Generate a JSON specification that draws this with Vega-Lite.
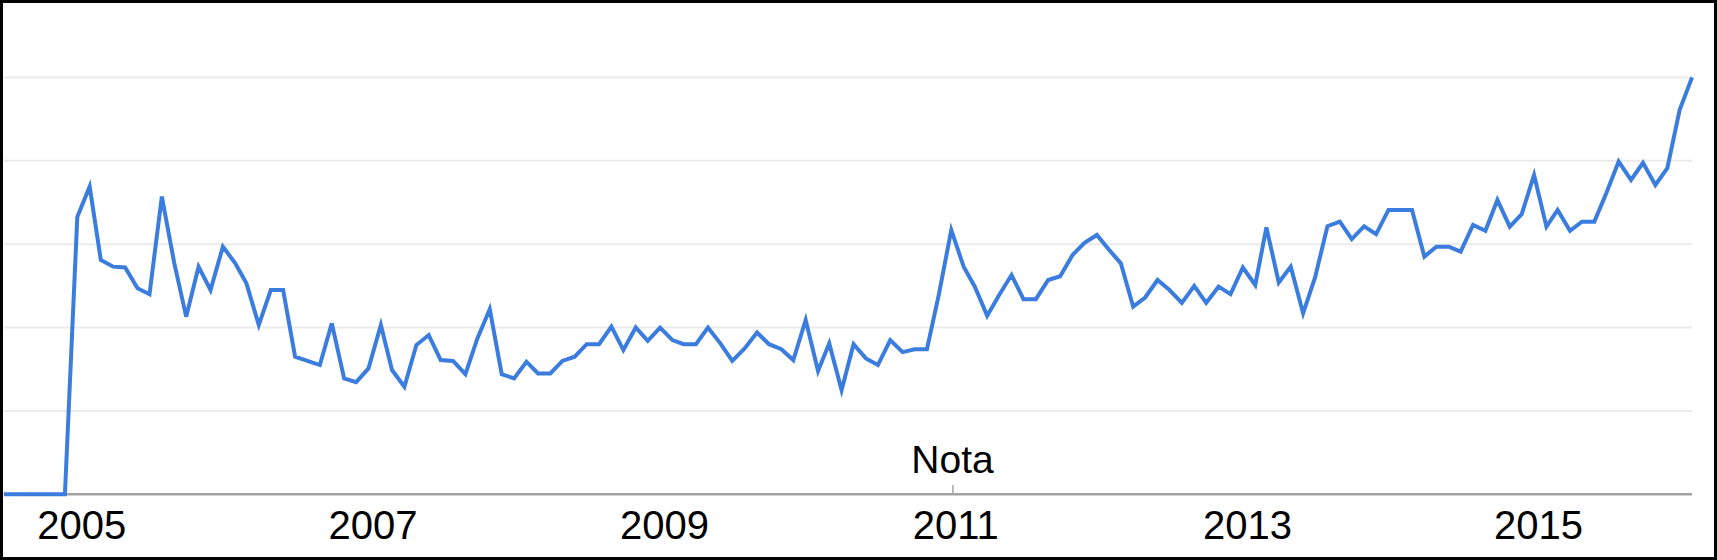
{
  "$schema": "https://vega.github.io/schema/vega-lite/v6.json",
  "width": 1714,
  "height": 557,
  "autosize": {"type": "none"},
  "padding": 1.5,
  "background": "white",
  "config": {"view": {"stroke": "#000000", "strokeWidth": 3}, "font": "Liberation Sans"},
  "data": {"values": [{"note": "Nota"}]},
  "datasets": {
    "trend": [
      {"month": "2004-07-01", "value": 0}, {"month": "2004-08-01", "value": 0}, {"month": "2004-09-01", "value": 0},
      {"month": "2004-10-01", "value": 0}, {"month": "2004-11-01", "value": 0}, {"month": "2004-12-01", "value": 0},
      {"month": "2005-01-01", "value": 66.5}, {"month": "2005-02-01", "value": 73.8}, {"month": "2005-03-01", "value": 56.2},
      {"month": "2005-04-01", "value": 54.6}, {"month": "2005-05-01", "value": 54.4}, {"month": "2005-06-01", "value": 49.4},
      {"month": "2005-07-01", "value": 48.0}, {"month": "2005-08-01", "value": 71.4}, {"month": "2005-09-01", "value": 55.5},
      {"month": "2005-10-01", "value": 42.6}, {"month": "2005-11-01", "value": 54.6}, {"month": "2005-12-01", "value": 49.0},
      {"month": "2006-01-01", "value": 59.4}, {"month": "2006-02-01", "value": 55.4}, {"month": "2006-03-01", "value": 50.6},
      {"month": "2006-04-01", "value": 40.6}, {"month": "2006-05-01", "value": 49.0}, {"month": "2006-06-01", "value": 49.0},
      {"month": "2006-07-01", "value": 33.0}, {"month": "2006-08-01", "value": 32.0}, {"month": "2006-09-01", "value": 31.0},
      {"month": "2006-10-01", "value": 41.0}, {"month": "2006-11-01", "value": 27.8}, {"month": "2006-12-01", "value": 26.9},
      {"month": "2007-01-01", "value": 30.2}, {"month": "2007-02-01", "value": 40.6}, {"month": "2007-03-01", "value": 29.8},
      {"month": "2007-04-01", "value": 25.8}, {"month": "2007-05-01", "value": 35.8}, {"month": "2007-06-01", "value": 38.2},
      {"month": "2007-07-01", "value": 32.2}, {"month": "2007-08-01", "value": 32.0}, {"month": "2007-09-01", "value": 28.8},
      {"month": "2007-10-01", "value": 37.4}, {"month": "2007-11-01", "value": 44.4}, {"month": "2007-12-01", "value": 28.8},
      {"month": "2008-01-01", "value": 27.8}, {"month": "2008-02-01", "value": 31.8}, {"month": "2008-03-01", "value": 29.0},
      {"month": "2008-04-01", "value": 29.0}, {"month": "2008-05-01", "value": 32.0}, {"month": "2008-06-01", "value": 33.0},
      {"month": "2008-07-01", "value": 36.0}, {"month": "2008-08-01", "value": 36.0}, {"month": "2008-09-01", "value": 40.2},
      {"month": "2008-10-01", "value": 34.6}, {"month": "2008-11-01", "value": 40.0}, {"month": "2008-12-01", "value": 36.8},
      {"month": "2009-01-01", "value": 40.0}, {"month": "2009-02-01", "value": 37.0}, {"month": "2009-03-01", "value": 36.0},
      {"month": "2009-04-01", "value": 36.0}, {"month": "2009-05-01", "value": 40.0}, {"month": "2009-06-01", "value": 36.2},
      {"month": "2009-07-01", "value": 32.0}, {"month": "2009-08-01", "value": 35.0}, {"month": "2009-09-01", "value": 38.8},
      {"month": "2009-10-01", "value": 36.0}, {"month": "2009-11-01", "value": 34.8}, {"month": "2009-12-01", "value": 32.2},
      {"month": "2010-01-01", "value": 41.8}, {"month": "2010-02-01", "value": 29.6}, {"month": "2010-03-01", "value": 36.2},
      {"month": "2010-04-01", "value": 25.0}, {"month": "2010-05-01", "value": 36.0}, {"month": "2010-06-01", "value": 32.6},
      {"month": "2010-07-01", "value": 31.0}, {"month": "2010-08-01", "value": 37.0}, {"month": "2010-09-01", "value": 34.1},
      {"month": "2010-10-01", "value": 34.8}, {"month": "2010-11-01", "value": 34.8}, {"month": "2010-12-01", "value": 48.0},
      {"month": "2011-01-01", "value": 63.4}, {"month": "2011-02-01", "value": 54.6}, {"month": "2011-03-01", "value": 49.8},
      {"month": "2011-04-01", "value": 42.8}, {"month": "2011-05-01", "value": 47.8}, {"month": "2011-06-01", "value": 52.6},
      {"month": "2011-07-01", "value": 46.8}, {"month": "2011-08-01", "value": 46.8}, {"month": "2011-09-01", "value": 51.4},
      {"month": "2011-10-01", "value": 52.3}, {"month": "2011-11-01", "value": 57.4}, {"month": "2011-12-01", "value": 60.3},
      {"month": "2012-01-01", "value": 62.2}, {"month": "2012-02-01", "value": 58.6}, {"month": "2012-03-01", "value": 55.4},
      {"month": "2012-04-01", "value": 45.0}, {"month": "2012-05-01", "value": 47.2}, {"month": "2012-06-01", "value": 51.4},
      {"month": "2012-07-01", "value": 49.0}, {"month": "2012-08-01", "value": 45.9}, {"month": "2012-09-01", "value": 50.0},
      {"month": "2012-10-01", "value": 45.9}, {"month": "2012-11-01", "value": 49.8}, {"month": "2012-12-01", "value": 48.0},
      {"month": "2013-01-01", "value": 54.4}, {"month": "2013-02-01", "value": 50.2}, {"month": "2013-03-01", "value": 64.0},
      {"month": "2013-04-01", "value": 50.8}, {"month": "2013-05-01", "value": 54.6}, {"month": "2013-06-01", "value": 43.4},
      {"month": "2013-07-01", "value": 52.0}, {"month": "2013-08-01", "value": 64.3}, {"month": "2013-09-01", "value": 65.4},
      {"month": "2013-10-01", "value": 61.2}, {"month": "2013-11-01", "value": 64.3}, {"month": "2013-12-01", "value": 62.4},
      {"month": "2014-01-01", "value": 68.2}, {"month": "2014-02-01", "value": 68.2}, {"month": "2014-03-01", "value": 68.2},
      {"month": "2014-04-01", "value": 57.0}, {"month": "2014-05-01", "value": 59.4}, {"month": "2014-06-01", "value": 59.4},
      {"month": "2014-07-01", "value": 58.2}, {"month": "2014-08-01", "value": 64.6}, {"month": "2014-09-01", "value": 63.2},
      {"month": "2014-10-01", "value": 70.6}, {"month": "2014-11-01", "value": 64.2}, {"month": "2014-12-01", "value": 67.2},
      {"month": "2015-01-01", "value": 76.6}, {"month": "2015-02-01", "value": 64.2}, {"month": "2015-03-01", "value": 68.2},
      {"month": "2015-04-01", "value": 63.2}, {"month": "2015-05-01", "value": 65.4}, {"month": "2015-06-01", "value": 65.4},
      {"month": "2015-07-01", "value": 72.2}, {"month": "2015-08-01", "value": 79.8}, {"month": "2015-09-01", "value": 75.4},
      {"month": "2015-10-01", "value": 79.5}, {"month": "2015-11-01", "value": 74.2}, {"month": "2015-12-01", "value": 78.2},
      {"month": "2016-01-01", "value": 92.2}, {"month": "2016-02-01", "value": 100}
    ],
    "grid": [{"v": 20}, {"v": 40}, {"v": 60}, {"v": 80}, {"v": 100}]
  },
  "layer": [
    {
      "data": {"name": "grid"},
      "mark": {"type": "rule", "color": "#ebebeb", "strokeWidth": 2},
      "encoding": {
        "x": {"datum": {"year": 2004, "month": 7, "date": 1, "utc": true}, "type": "temporal",
              "scale": {"type": "utc", "domain": [{"year": 2004, "month": 6, "date": 25, "utc": true}, {"year": 2016, "month": 3, "date": 30, "hours": 19, "utc": true}]},
              "axis": {"values": [1104537600000, 1167609600000, 1230768000000, 1293840000000, 1356998400000, 1420070400000],
                "format": "%Y", "title": null, "domain": false, "ticks": false, "tickSize": 0, "grid": false,
                "labelFontSize": 40, "labelFont": "Liberation Sans", "labelColor": "#000000",
                "labelBaseline": "alphabetic", "labelPadding": 44, "offset": -64.2, "labelOffset": 4,
                "labelFlush": false, "labelOverlap": false}},
        "x2": {"datum": {"year": 2016, "month": 2, "date": 1, "utc": true}},
        "y": {"field": "v", "type": "quantitative", "scale": {"domain": [-15.4, 118.2], "nice": false, "zero": false}, "axis": null}
      }
    },
    {
      "mark": {"type": "rule", "color": "#a3a3a3", "strokeWidth": 2.5},
      "encoding": {
        "x": {"datum": {"year": 2004, "month": 7, "date": 1, "utc": true}, "type": "temporal",
              "scale": {"type": "utc", "domain": [{"year": 2004, "month": 6, "date": 25, "utc": true}, {"year": 2016, "month": 3, "date": 30, "hours": 19, "utc": true}]},
              "axis": {"values": [1104537600000, 1167609600000, 1230768000000, 1293840000000, 1356998400000, 1420070400000],
                "format": "%Y", "title": null, "domain": false, "ticks": false, "tickSize": 0, "grid": false,
                "labelFontSize": 40, "labelFont": "Liberation Sans", "labelColor": "#000000",
                "labelBaseline": "alphabetic", "labelPadding": 44, "offset": -64.2, "labelOffset": 4,
                "labelFlush": false, "labelOverlap": false}},
        "x2": {"datum": {"year": 2016, "month": 2, "date": 1, "utc": true}},
        "y": {"datum": 0, "type": "quantitative", "scale": {"domain": [-15.4, 118.2], "nice": false, "zero": false}, "axis": null}
      }
    },
    {
      "data": {"name": "trend"},
      "mark": {"type": "line", "color": "#3b7ddf", "strokeWidth": 4},
      "encoding": {
        "x": {"field": "month", "type": "temporal",
              "scale": {"type": "utc", "domain": [{"year": 2004, "month": 6, "date": 25, "utc": true}, {"year": 2016, "month": 3, "date": 30, "hours": 19, "utc": true}]},
              "axis": {"values": [1104537600000, 1167609600000, 1230768000000, 1293840000000, 1356998400000, 1420070400000],
                "format": "%Y", "title": null, "domain": false, "ticks": false, "tickSize": 0, "grid": false,
                "labelFontSize": 40, "labelFont": "Liberation Sans", "labelColor": "#000000",
                "labelBaseline": "alphabetic", "labelPadding": 44, "offset": -64.2, "labelOffset": 4,
                "labelFlush": false, "labelOverlap": false}},
        "y": {"field": "value", "type": "quantitative", "scale": {"domain": [-15.4, 118.2], "nice": false, "zero": false}, "axis": null}
      }
    },
    {
      "mark": {"type": "rule", "color": "#a8a8a8", "strokeWidth": 1.5},
      "encoding": {
        "x": {"datum": {"year": 2011, "month": 1, "date": 5, "utc": true}, "type": "temporal",
              "scale": {"type": "utc", "domain": [{"year": 2004, "month": 6, "date": 25, "utc": true}, {"year": 2016, "month": 3, "date": 30, "hours": 19, "utc": true}]},
              "axis": {"values": [1104537600000, 1167609600000, 1230768000000, 1293840000000, 1356998400000, 1420070400000],
                "format": "%Y", "title": null, "domain": false, "ticks": false, "tickSize": 0, "grid": false,
                "labelFontSize": 40, "labelFont": "Liberation Sans", "labelColor": "#000000",
                "labelBaseline": "alphabetic", "labelPadding": 44, "offset": -64.2, "labelOffset": 4,
                "labelFlush": false, "labelOverlap": false}},
        "y": {"datum": 0.3, "type": "quantitative", "scale": {"domain": [-15.4, 118.2], "nice": false, "zero": false}, "axis": null},
        "y2": {"datum": 2.2}
      }
    },
    {
      "mark": {"type": "text", "font": "Liberation Sans", "fontSize": 39, "color": "#000000", "align": "center", "baseline": "alphabetic"},
      "encoding": {
        "text": {"field": "note"},
        "x": {"datum": {"year": 2011, "month": 1, "date": 4, "utc": true}, "type": "temporal",
              "scale": {"type": "utc", "domain": [{"year": 2004, "month": 6, "date": 25, "utc": true}, {"year": 2016, "month": 3, "date": 30, "hours": 19, "utc": true}]},
              "axis": {"values": [1104537600000, 1167609600000, 1230768000000, 1293840000000, 1356998400000, 1420070400000],
                "format": "%Y", "title": null, "domain": false, "ticks": false, "tickSize": 0, "grid": false,
                "labelFontSize": 40, "labelFont": "Liberation Sans", "labelColor": "#000000",
                "labelBaseline": "alphabetic", "labelPadding": 44, "offset": -64.2, "labelOffset": 4,
                "labelFlush": false, "labelOverlap": false}},
        "y": {"datum": 5.0, "type": "quantitative", "scale": {"domain": [-15.4, 118.2], "nice": false, "zero": false}, "axis": null}
      }
    }
  ]
}
